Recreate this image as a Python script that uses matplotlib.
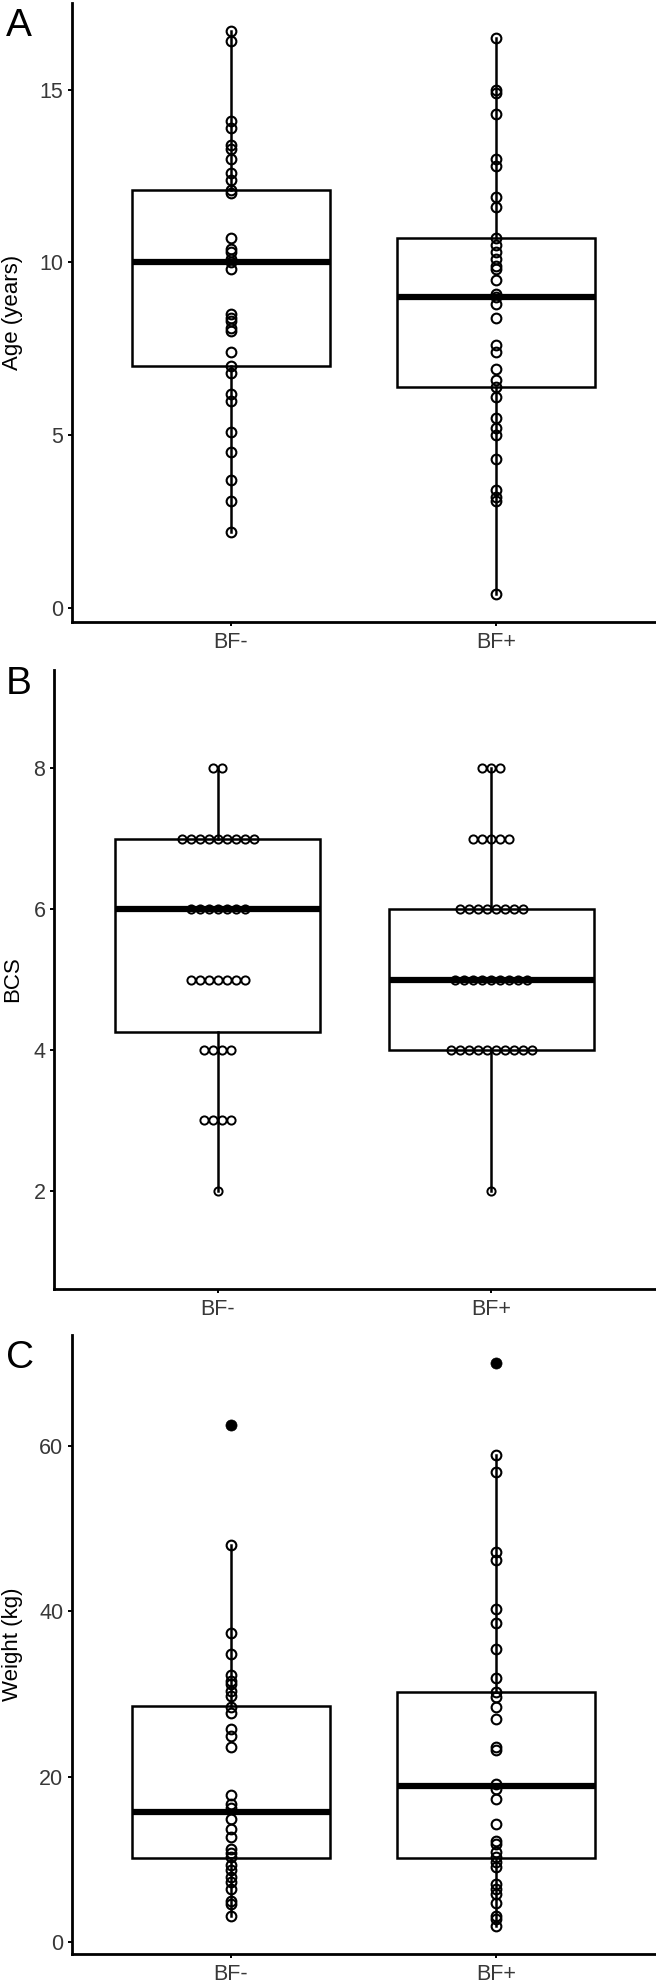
import numpy as np
import matplotlib
matplotlib.use("Agg")
import matplotlib.pyplot as plt

plt.rcParams['font.family'] = ['Liberation Sans', 'DejaVu Sans']

groups = ['BF-', 'BF+']
positions = [1, 2]

# Panel A: age (years)
age_bf_neg = [16.7, 16.4, 14.1, 13.9, 13.4, 13.3, 13.0, 12.6, 12.4, 12.1, 12.0,
              10.7, 10.4, 10.3, 10.1, 10.0, 9.8, 8.5, 8.4, 8.3, 8.1, 8.0, 7.4,
              7.0, 6.8, 6.2, 6.0, 5.1, 4.5, 3.7, 3.1, 2.2]
age_bf_pos = [16.5, 15.0, 14.9, 14.3, 13.0, 12.8, 11.9, 11.6, 10.7, 10.5, 10.3,
              10.1, 9.9, 9.8, 9.5, 9.1, 9.0, 8.8, 8.4, 7.6, 7.4, 6.9, 6.6, 6.4,
              6.1, 5.5, 5.2, 5.0, 4.3, 3.4, 3.2, 3.1, 0.4]
# box stats: whisker low, Q1, median, Q3, whisker high
age_box_neg = [2.2, 7.0, 10.0, 12.1, 16.7]
age_box_pos = [0.4, 6.4, 9.0, 10.7, 16.5]
age_ticks = [0, 5, 10, 15]

# Panel B: BCS (dot plot)
bcs_levels = [2, 3, 4, 5, 6, 7, 8]
bcs_counts_neg = [1, 4, 4, 7, 7, 9, 2]
bcs_counts_pos = [1, 0, 10, 9, 8, 5, 3]
bcs_limits = [1, 9]
bcs_ticks = [2, 4, 6, 8]

# Panel C: weight (kg)
wt_bf_neg = [62.5, 48.0, 37.4, 34.9, 32.3, 31.6, 31.2, 30.4, 29.8, 28.4, 27.7,
             25.8, 24.9, 23.6, 17.8, 16.7, 16.3, 14.9, 13.7, 12.7, 11.3, 10.8,
             10.3, 9.3, 8.7, 7.9, 7.3, 6.5, 5.0, 4.6, 3.2]
wt_bf_pos = [70.0, 58.9, 56.9, 47.2, 46.2, 40.3, 38.6, 35.5, 31.9, 30.2, 29.6,
             28.4, 27.0, 23.6, 23.2, 19.1, 18.5, 17.3, 14.3, 12.2, 11.9, 10.9,
             10.3, 9.7, 9.1, 7.1, 6.4, 5.8, 4.8, 3.2, 2.8, 2.0]
wt_box_neg = [3.2, 10.2, 15.7, 28.6, 48.0]
wt_box_pos = [2.0, 10.2, 18.9, 30.2, 58.9]
wt_ticks = [0, 20, 40, 60]

W, H = 656, 1986
DPI = 100
fig = plt.figure(figsize=(W / DPI, H / DPI), dpi=DPI)
fig.patch.set_facecolor('white')

TICK_COLOR = '#383838'
FS_TICK = 15.5
FS_LABEL = 16


def make_axes(left, top, bottom, right=655):
    return fig.add_axes([left / W, 1 - bottom / H, (right - left) / W, (bottom - top) / H])


def style_axes(ax, ticks, ylabel, label_x_px, left_px, width_px):
    for s in ['top', 'right']:
        ax.spines[s].set_visible(False)
    for s in ['left', 'bottom']:
        ax.spines[s].set_linewidth(2.0)
        ax.spines[s].set_capstyle('projecting')
    ax.set_xlim(0.4, 2.6)
    ax.set_xticks(positions)
    ax.set_xticklabels(groups)
    ax.set_yticks(ticks)
    ax.set_yticklabels([str(t) for t in ticks])
    ax.tick_params(axis='both', direction='out', length=3.2, width=1.4,
                   labelsize=FS_TICK, labelcolor=TICK_COLOR, color='black')
    ax.tick_params(axis='y', pad=3.0)
    ax.tick_params(axis='x', pad=4.0)
    ax.set_ylabel(ylabel, fontsize=FS_LABEL, color='black')
    ax.yaxis.label.set_rotation_mode('default')
    ax.yaxis.label.set_ha('center')
    ax.yaxis.label.set_va('center')
    ax.yaxis.set_label_coords((label_x_px - left_px) / width_px, 0.5)
    ax.set_facecolor('none')


def draw_box(ax, pos, st):
    stats = [dict(whislo=st[0], q1=st[1], med=st[2], q3=st[3], whishi=st[4], fliers=[])]
    ax.bxp(stats, positions=[pos], widths=0.75, showfliers=False, showcaps=False,
           patch_artist=True,
           boxprops=dict(facecolor='white', edgecolor='black', linewidth=1.8),
           whiskerprops=dict(color='black', linewidth=1.8),
           medianprops=dict(color='black', linewidth=4.5, solid_capstyle='butt'),
           zorder=2)


def padded_limits(values):
    lo, hi = min(values), max(values)
    pad = 0.05 * (hi - lo)
    return lo - pad, hi + pad


# ---------- Panel A ----------
axA = make_axes(72, 3, 622)
for pos, vals, st in zip(positions, [age_bf_neg, age_bf_pos], [age_box_neg, age_box_pos]):
    draw_box(axA, pos, st)
    axA.plot(np.full(len(vals), pos), vals, 'o', ms=7.0, mfc='none', mec='black',
             mew=1.5, zorder=3, clip_on=False)
axA.set_ylim(*padded_limits(age_bf_neg + age_bf_pos))
style_axes(axA, age_ticks, 'Age (years)', 13, 72, 583)

# ---------- Panel B ----------
axB = make_axes(54, 670, 1289)
bcs_neg = np.repeat(bcs_levels, bcs_counts_neg)
bcs_pos = np.repeat(bcs_levels, bcs_counts_pos)
dot_px = 9.0
axB_width_px = 655 - 54
dot_step = dot_px * 2.2 / axB_width_px
for pos, data, counts in zip(positions, [bcs_neg, bcs_pos], [bcs_counts_neg, bcs_counts_pos]):
    q1, med, q3 = np.percentile(data, [25, 50, 75])
    iqr = q3 - q1
    inside = data[(data >= q1 - 1.5 * iqr) & (data <= q3 + 1.5 * iqr)]
    draw_box(axB, pos, [inside.min(), q1, med, q3, inside.max()])
    for lvl, n in zip(bcs_levels, counts):
        if n == 0:
            continue
        xs = pos + (np.arange(n) - (n - 1) / 2) * dot_step
        axB.plot(xs, np.full(n, lvl), 'o', ms=5.9, mfc='none', mec='black',
                 mew=1.4, zorder=3)
lo, hi = bcs_limits
pad = 0.05 * (hi - lo)
axB.set_ylim(lo - pad, hi + pad)
style_axes(axB, bcs_ticks, 'BCS', 13, 54, axB_width_px)

# ---------- Panel C ----------
axC = make_axes(72, 1335, 1954)
for pos, vals, st in zip(positions, [wt_bf_neg, wt_bf_pos], [wt_box_neg, wt_box_pos]):
    draw_box(axC, pos, st)
    vals = np.array(vals)
    out = (vals > st[4]) | (vals < st[0])
    axC.plot(np.full((~out).sum(), pos), vals[~out], 'o', ms=7.0, mfc='none',
             mec='black', mew=1.5, zorder=3)
    axC.plot(np.full(out.sum(), pos), vals[out], 'o', ms=8.0, mfc='black',
             mec='black', mew=0.5, zorder=3)
axC.set_ylim(*padded_limits(wt_bf_neg + wt_bf_pos))
style_axes(axC, wt_ticks, 'Weight (kg)', 13, 72, 583)

# Panel letters
for letter, base in zip(['A', 'B', 'C'], [36, 694, 1368]):
    fig.text(6 / W, 1 - base / H, letter, fontsize=28, color='black',
             ha='left', va='baseline')

fig.savefig('out.png', dpi=DPI, facecolor='white')
